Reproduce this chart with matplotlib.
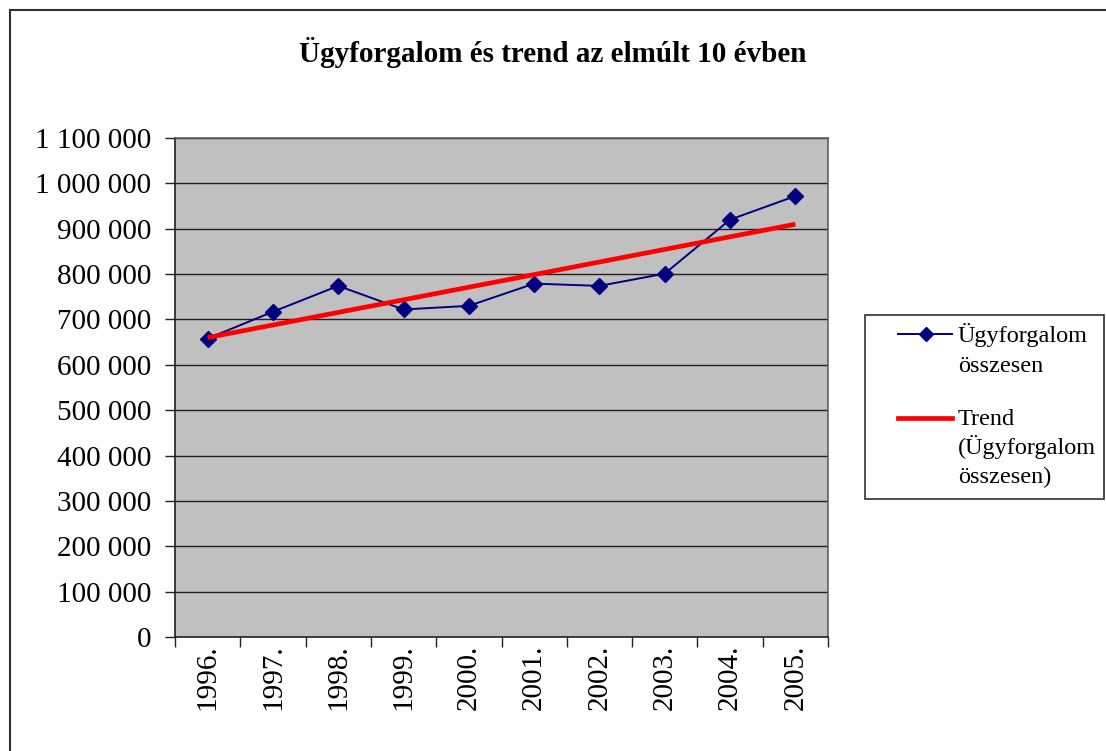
import matplotlib
matplotlib.use("Agg")
import matplotlib.pyplot as plt
from matplotlib.lines import Line2D
from matplotlib.patches import Rectangle
from matplotlib.ticker import FuncFormatter, FixedLocator

plt.rcParams['font.family'] = ['Liberation Serif', 'DejaVu Serif']

years = ["1996.", "1997.", "1998.", "1999.", "2000.", "2001.", "2002.", "2003.", "2004.", "2005."]
ugyforgalom = [658000, 717000, 774000, 722000, 730000, 779000, 774000, 801000, 920000, 972000]
trend_years = ["1996.", "2005."]
trend_values = [660000, 910000]
yticks = list(range(0, 1100001, 100000))

title = "Ügyforgalom és trend az elmúlt 10 évben"
label_series = ["Ügyforgalom", "összesen"]
label_trend = ["Trend", "(Ügyforgalom", "összesen)"]

W, H = 1106, 751
fig = plt.figure(figsize=(W / 100, H / 100), dpi=100)
fig.patch.set_facecolor("white")

ax = fig.add_axes([175 / W, 1 - 637 / H, (828 - 175) / W, (637 - 138) / H])
ax.set_facecolor("#C0C0C0")

x = list(range(len(years)))
tx = [years.index(t) for t in trend_years]

for v in yticks[1:]:
    ax.axhline(v, color="#202020", lw=1.0, zorder=1)

ax.plot(x, ugyforgalom, color="#000080", lw=1.4, marker="D", markersize=8.5,
        markerfacecolor="#000080", markeredgecolor="#000080", zorder=3)
ax.plot(tx, trend_values, color="#FF0000", lw=3.4, zorder=4, solid_capstyle="butt")

ax.set_xlim(-0.5, len(years) - 0.5)
ax.set_ylim(0, 1100000)

ax.yaxis.set_major_locator(FixedLocator(yticks))
ax.yaxis.set_major_formatter(FuncFormatter(lambda v, p: f"{int(v):,}".replace(",", " ")))
ax.tick_params(axis="y", direction="out", length=7, width=1, color="#202020",
               labelsize=21, pad=10)

ax.xaxis.set_major_locator(FixedLocator([i - 0.5 for i in range(len(years) + 1)]))
ax.xaxis.set_major_formatter(FuncFormatter(lambda v, p: ""))
ax.xaxis.set_minor_locator(FixedLocator(x))
ax.set_xticklabels(years, minor=True, rotation=90, fontsize=21)
ax.tick_params(axis="x", which="major", direction="out", length=7, width=1, color="#202020")
ax.tick_params(axis="x", which="minor", length=0, pad=5.5)

for s in ax.spines.values():
    s.set_color("#606060")
    s.set_linewidth(1.2)
ax.spines["left"].set_color("#202020")
ax.spines["bottom"].set_color("#202020")

fig.text(553 / W, 1 - 52 / H, title, ha="center", va="center", fontsize=21, fontweight="bold")

# outer frame
fig.add_artist(Line2D([10 / W, 10 / W], [0, 1 - 10 / H], transform=fig.transFigure, color="#303030", lw=1.5))
fig.add_artist(Line2D([10 / W, 1], [1 - 10 / H, 1 - 10 / H], transform=fig.transFigure, color="#303030", lw=1.5))

# legend
fig.add_artist(Rectangle((865 / W, 1 - 499 / H), (1104 - 865) / W, (499 - 315) / H,
                         transform=fig.transFigure, facecolor="white", edgecolor="#303030", lw=1.2))
fig.add_artist(Line2D([898 / W, 952 / W], [1 - 334 / H, 1 - 334 / H], transform=fig.transFigure,
                      color="#000080", lw=1.4))
fig.add_artist(Line2D([926 / W], [1 - 334 / H], transform=fig.transFigure, color="#000080",
                      marker="D", markersize=7, markerfacecolor="#000080", markeredgecolor="#000080"))
fig.add_artist(Line2D([898 / W, 952 / W], [1 - 418 / H, 1 - 418 / H], transform=fig.transFigure,
                      color="#FF0000", lw=3.4))
for i, line in enumerate(label_series):
    fig.text(958 / W, 1 - (342 + 30 * i) / H, line, ha="left", va="baseline", fontsize=17.5)
for i, line in enumerate(label_trend):
    fig.text(958 / W, 1 - (425 + 29 * i) / H, line, ha="left", va="baseline", fontsize=17.5)

fig.savefig("out.png", dpi=100, facecolor="white")
